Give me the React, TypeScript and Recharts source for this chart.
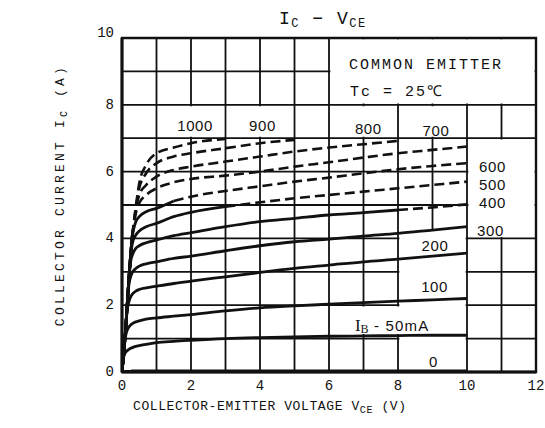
import React from 'react';
import {
  LineChart,
  Line,
  XAxis,
  YAxis,
  CartesianGrid,
  ReferenceArea,
  ReferenceDot,
  ReferenceLine,
} from 'recharts';

// ---- data ----
const VCE = [0, 0.05, 0.1, 0.15, 0.2, 0.25, 0.3, 0.4, 0.5, 0.7, 1, 1.5, 2, 3, 4, 5, 6, 7, 8, 9, 10];

const IB_0 = [0, 0.01, 0.02, 0.02, 0.02, 0.02, 0.03, 0.03, 0.03, 0.03, 0.03, 0.03, 0.03, 0.03, 0.03, 0.03, 0.03, 0.03, 0.03, 0.03, 0.03];
const IB_50 = [0, 0.45, 0.58, 0.64, 0.68, 0.71, 0.73, 0.77, 0.79, 0.83, 0.88, 0.92, 0.95, 1.0, 1.03, 1.05, 1.07, 1.08, 1.09, 1.1, 1.1];
const IB_100 = [0, 0.55, 1.05, 1.25, 1.35, 1.41, 1.45, 1.5, 1.53, 1.58, 1.62, 1.67, 1.72, 1.83, 1.92, 1.98, 2.03, 2.08, 2.12, 2.16, 2.2];
const IB_200 = [0, 0.6, 1.2, 1.85, 2.1, 2.25, 2.33, 2.42, 2.47, 2.52, 2.57, 2.65, 2.72, 2.85, 2.98, 3.1, 3.2, 3.3, 3.38, 3.47, 3.56];
const IB_300 = [0, 0.6, 1.2, 1.95, 2.6, 2.85, 2.98, 3.1, 3.17, 3.24, 3.3, 3.4, 3.47, 3.63, 3.78, 3.9, 3.98, 4.07, 4.15, 4.25, 4.35];
const IB_400 = [0, 0.6, 1.2, 2.0, 2.75, 3.3, 3.5, 3.7, 3.78, 3.87, 3.95, 4.08, 4.17, 4.35, 4.5, 4.6, 4.7, 4.77, 4.85, 4.93, 5.02];
const IB_500 = [0, 0.6, 1.2, 2.0, 2.8, 3.45, 3.85, 4.1, 4.22, 4.35, 4.45, 4.65, 4.78, 4.95, 5.08, 5.2, 5.3, 5.4, 5.5, 5.6, 5.7];
const IB_600 = [0, 0.6, 1.2, 2.0, 2.8, 3.5, 4.05, 4.5, 4.65, 4.8, 4.9, 5.12, 5.25, 5.42, 5.56, 5.7, 5.82, 5.95, 6.07, 6.17, 6.25];
const IB_700 = [0, 0.6, 1.2, 2.0, 2.8, 3.5, 4.1, 4.75, 5.05, 5.3, 5.5, 5.68, 5.78, 5.88, 6.0, 6.15, 6.28, 6.42, 6.55, 6.65, 6.75];
const IB_800 = [0, 0.6, 1.2, 2.0, 2.8, 3.5, 4.1, 4.85, 5.3, 5.6, 5.85, 6.05, 6.15, 6.3, 6.45, 6.6, 6.72, 6.82, 6.92, null, null];
const IB_900 = [0, 0.6, 1.2, 2.0, 2.8, 3.5, 4.1, 4.9, 5.5, 5.95, 6.25, 6.45, 6.55, 6.7, 6.85, 6.95, null, null, null, null, null];
const IB_1000 = [0, 0.6, 1.2, 2.0, 2.8, 3.5, 4.1, 4.95, 5.65, 6.2, 6.55, 6.72, 6.85, 6.98, null, null, null, null, null, null, null];

// VCE up to which each curve is drawn solid (dashed beyond)
const SOLID_UNTIL = [10, 10, 10, 10, 10, 8, 3, 1.5, 0.3, 0.3, 0.3, 0.3];
const SERIES_KEYS = ['ib0', 'ib50', 'ib100', 'ib200', 'ib300', 'ib400', 'ib500', 'ib600', 'ib700', 'ib800', 'ib900', 'ib1000'];
const SERIES_VALUES = [IB_0, IB_50, IB_100, IB_200, IB_300, IB_400, IB_500, IB_600, IB_700, IB_800, IB_900, IB_1000];

const X_TICKS = [0, 2, 4, 6, 8, 10, 12];
const Y_TICKS = [0, 2, 4, 6, 8, 10];
const GRID_X = [0, 1, 2, 3, 4, 5, 6, 7, 8, 9, 10, 11, 12];
const GRID_Y = [0, 1, 2, 3, 4, 5, 6, 7, 8, 9, 10];

const CURVE_LABELS = ['1000', '900', '800', '700', '600', '500', '400', '300', '200', '100', '0'];
const CURVE_LABEL_X = [2.12, 4.07, 7.14, 9.1, 10.74, 10.74, 10.74, 10.68, 9.07, 9.06, 9.03];
const CURVE_LABEL_Y = [7.37, 7.37, 7.28, 7.22, 6.14, 5.6, 5.06, 4.25, 3.8, 2.55, 0.3];

// white label boxes [x1, x2, y1, y2]
const BOXES = [
  [6, 12, 8, 10],
  [1, 3, 7, 8],
  [3, 5, 7, 8],
  [6, 8, 7, 8],
  [8, 10, 7, 8],
  [10, 12, 4, 7],
  [8, 10, 0, 4.3],
  [6.4, 8.5, 1.1, 2.0],
];

const rows = VCE.map((v, i) => {
  const r: any = { vce: v };
  SERIES_KEYS.forEach((k, s) => {
    const val = SERIES_VALUES[s][i];
    if (val === null || val === undefined) return;
    if (v <= SOLID_UNTIL[s]) r[k + '_s'] = val;
    if (v >= SOLID_UNTIL[s]) r[k + '_d'] = val;
  });
  return r;
});

const MONO = "'Liberation Mono', 'DejaVu Sans Mono', monospace";
const SANS = "'Liberation Sans', Arial, sans-serif";
const SERIF = "'Liberation Serif', 'DejaVu Serif', serif";
const INK = '#111';
const INSET = 0.04;

const labelShape = (text: string) => (p: any) => (
  <text
    x={p.cx}
    y={p.cy}
    textAnchor="middle"
    dominantBaseline="central"
    fontFamily={SANS}
    fontSize={15}
    letterSpacing={0.6}
    fill={INK}
  >
    {text}
  </text>
);

const ibShape = (p: any) => (
  <text x={p.cx} y={p.cy} dominantBaseline="central" fill={INK}>
    <tspan fontFamily={SERIF} fontSize={17}>I</tspan>
    <tspan fontFamily={SERIF} fontSize={12} dy={4}>B</tspan>
    <tspan fontFamily={SANS} fontSize={15} dy={-4} letterSpacing={1.2}>{'  - 50mA'}</tspan>
  </text>
);

const boxTextShape = (p: any) => (
  <g>
    <text x={p.cx} y={p.cy} fontFamily={MONO} fontSize={15} letterSpacing={2} fill={INK} dominantBaseline="central">
      COMMON EMITTER
    </text>
    <text x={p.cx + 1} y={p.cy + 27} fontFamily={MONO} fontSize={15} letterSpacing={2} fill={INK} dominantBaseline="central">
      Tc = 25℃
    </text>
  </g>
);

const YTick = (p: any) => {
  const v = p.payload.value;
  return (
    <text
      x={p.x}
      y={v === 10 ? p.y - 5 : p.y}
      textAnchor="end"
      dominantBaseline="central"
      fontFamily={MONO}
      fontSize={14}
      fill={INK}
    >
      {v}
    </text>
  );
};

export default function App() {
  return (
    <div style={{ position: 'absolute', left: 0, top: 0, width: 545, height: 428, background: '#fff' }}>
      <LineChart
        width={545}
        height={428}
        data={rows}
        margin={{ top: 38, right: 9, bottom: 26, left: 82 }}
      >
        <CartesianGrid
          horizontalValues={GRID_Y}
          verticalValues={GRID_X}
          stroke={INK}
          strokeWidth={1.8}
          strokeOpacity={1}
        />
        <XAxis
          dataKey="vce"
          type="number"
          domain={[0, 12]}
          ticks={X_TICKS}
          allowDataOverflow
          tickLine={false}
          axisLine={false}
          height={30}
          tick={{ fontFamily: MONO, fontSize: 14, fill: INK }}
        />
        <YAxis
          type="number"
          domain={[0, 10]}
          ticks={Y_TICKS}
          allowDataOverflow
          tickLine={false}
          axisLine={false}
          width={40}
          tick={<YTick />}
        />
        {BOXES.map((b, i) => (
          <ReferenceArea
            key={'box' + i}
            x1={b[0] + INSET}
            x2={b[1] - INSET}
            y1={b[2] + INSET}
            y2={b[3] - INSET}
            fill="#fff"
            fillOpacity={1}
            stroke="none"
            ifOverflow="visible"
          />
        ))}
        <ReferenceArea x1={0} x2={12} y1={0} y2={10} fill="none" stroke={INK} strokeWidth={2.4} ifOverflow="visible" />
        <ReferenceLine x={0} stroke={INK} strokeWidth={3} />
        <ReferenceLine y={0} stroke={INK} strokeWidth={3} />
        {SERIES_KEYS.map((k) => (
          <Line
            key={k + '_s'}
            dataKey={k + '_s'}
            type="monotone"
            stroke={INK}
            strokeWidth={2.8}
            dot={false}
            activeDot={false}
            connectNulls={false}
            isAnimationActive={false}
          />
        ))}
        {SERIES_KEYS.filter((k, s) => SOLID_UNTIL[s] < 10).map((k) => (
          <Line
            key={k + '_d'}
            dataKey={k + '_d'}
            type="monotone"
            stroke={INK}
            strokeWidth={2.6}
            strokeDasharray="10 5"
            dot={false}
            activeDot={false}
            connectNulls={false}
            isAnimationActive={false}
          />
        ))}
        {CURVE_LABELS.map((t, i) => (
          <ReferenceDot
            key={'lab' + i}
            x={CURVE_LABEL_X[i]}
            y={CURVE_LABEL_Y[i]}
            r={0}
            ifOverflow="visible"
            shape={labelShape(t)}
          />
        ))}
        <ReferenceDot x={6.75} y={1.41} r={0} ifOverflow="visible" shape={ibShape} />
        <ReferenceDot x={6.58} y={9.19} r={0} ifOverflow="visible" shape={boxTextShape} />
        <text x={279} y={24} fontFamily={MONO} fontSize={18} letterSpacing={1.5} fill={INK}>
          <tspan>I</tspan>
          <tspan fontSize={12} dy={3}>C</tspan>
          <tspan dy={-3}>{' − V'}</tspan>
          <tspan fontSize={12} dy={3}>CE</tspan>
        </text>
        <text x={133} y={410} fontFamily={MONO} fontSize={13} letterSpacing={0.6} fill={INK}>
          <tspan>COLLECTOR-EMITTER VOLTAGE V</tspan>
          <tspan fontSize={10} dy={3}>CE</tspan>
          <tspan dy={-3}>{' (V)'}</tspan>
        </text>
        <text
          x={0}
          y={0}
          transform="translate(64 195) rotate(-90)"
          textAnchor="middle"
          fontFamily={MONO}
          fontSize={13}
          letterSpacing={3.2}
          fill={INK}
        >
          <tspan>COLLECTOR CURRENT  I</tspan>
          <tspan fontSize={10} dy={3}>C</tspan>
          <tspan dy={-3}>{' (A)'}</tspan>
        </text>
      </LineChart>
    </div>
  );
}
